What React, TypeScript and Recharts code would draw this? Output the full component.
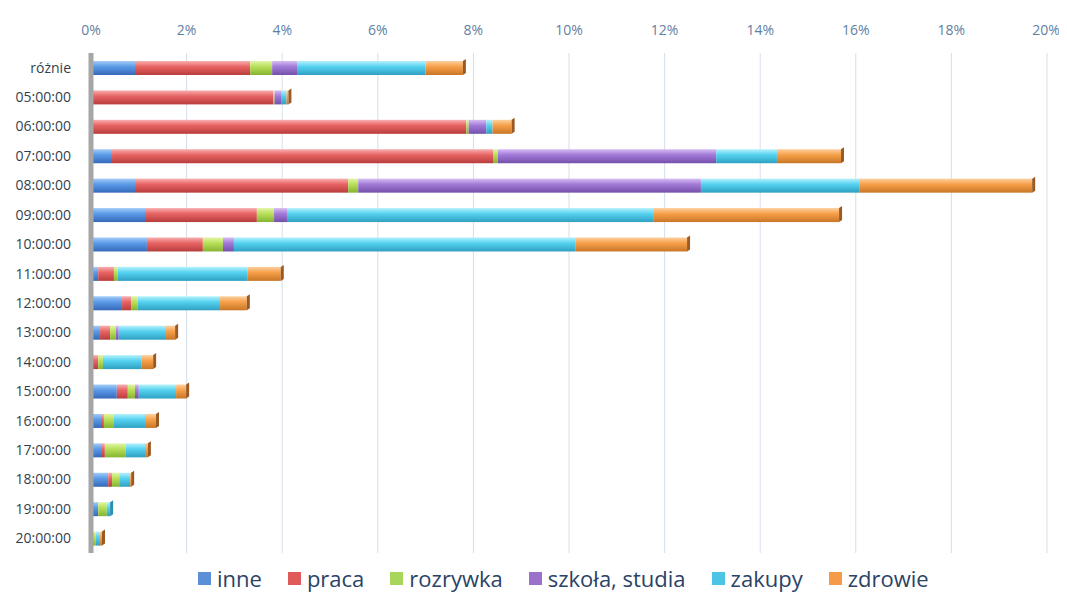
import React from "react";
import { BarChart, Bar, XAxis, YAxis, CartesianGrid, Legend, ReferenceLine } from "recharts";

const categories = ["różnie", "05:00:00", "06:00:00", "07:00:00", "08:00:00", "09:00:00", "10:00:00", "11:00:00", "12:00:00", "13:00:00", "14:00:00", "15:00:00", "16:00:00", "17:00:00", "18:00:00", "19:00:00", "20:00:00"];
const inne = [0.92, 0, 0, 0.44, 0.92, 1.13, 1.17, 0.15, 0.65, 0.19, 0.04, 0.54, 0.21, 0.21, 0.36, 0.15, 0.02];
const praca = [2.41, 3.81, 7.85, 7.97, 4.46, 2.34, 1.17, 0.33, 0.19, 0.21, 0.11, 0.23, 0.06, 0.08, 0.08, 0, 0];
const rozrywka = [0.46, 0.03, 0.05, 0.1, 0.21, 0.36, 0.42, 0.08, 0.14, 0.12, 0.1, 0.15, 0.21, 0.44, 0.15, 0.18, 0.08];
const szkola = [0.52, 0.15, 0.37, 4.57, 7.17, 0.27, 0.23, 0, 0, 0.06, 0, 0.08, 0, 0, 0, 0, 0];
const zakupy = [2.69, 0.1, 0.13, 1.27, 3.31, 7.66, 7.14, 2.72, 1.72, 0.99, 0.8, 0.78, 0.65, 0.4, 0.23, 0.07, 0.09];
const zdrowie = [0.78, 0.04, 0.4, 1.34, 3.62, 3.89, 2.34, 0.69, 0.56, 0.19, 0.25, 0.21, 0.23, 0.06, 0.02, 0, 0.04];
const xTicks = [0, 2, 4, 6, 8, 10, 12, 14, 16, 18, 20];

const seriesNames = ["inne", "praca", "rozrywka", "szkoła, studia", "zakupy", "zdrowie"];
const seriesValues = [inne, praca, rozrywka, szkola, zakupy, zdrowie];
const seriesColors = [
  { top: "#a4cbf7", mid: "#5b9be8", bot: "#3568b8", cap: "#2f5ea6" },
  { top: "#f8b0b0", mid: "#e86464", bot: "#b83c3c", cap: "#a83838" },
  { top: "#e2f5a6", mid: "#b8e05a", bot: "#86b332", cap: "#7aa02c" },
  { top: "#d6bdf2", mid: "#a37ad8", bot: "#7450aa", cap: "#66479a" },
  { top: "#b6f1fc", mid: "#55d2f0", bot: "#2fa0c2", cap: "#2b8fae" },
  { top: "#fcd0a0", mid: "#f7a04a", bot: "#c87626", cap: "#9a5a22" },
];
const legendColors = ["#5b8fd8", "#e05a5a", "#a8d65a", "#9a72cc", "#4cc4e6", "#f59a48"];

const data = categories.map((c, i) => {
  const row: Record<string, string | number> = { cat: c };
  seriesNames.forEach((s, k) => {
    row[s] = seriesValues[k][i];
  });
  return row;
});

const font = "'Open Sans', 'Noto Sans', sans-serif";

const makeShape = (k: number) => (props: any) => {
  const { x, y, width, height, payload } = props;
  if (!width || width <= 0) return <g />;
  let last = -1;
  seriesNames.forEach((s, j) => {
    if (Number(payload[s]) > 0) last = j;
  });
  const c = seriesColors[k];
  return (
    <g>
      <rect x={x} y={y} width={width} height={height} fill={`url(#g${k})`} />
      {last === k && (
        <polygon
          points={`${x + width},${y} ${x + width + 3},${y - 2} ${x + width + 3},${y + height - 2} ${x + width},${y + height}`}
          fill={c.cap}
        />
      )}
    </g>
  );
};

const LegendContent = () => (
  <div style={{ boxSizing: "border-box", width: "100%", display: "flex", justifyContent: "flex-start", alignItems: "center", fontFamily: font, fontSize: 22, color: "#2b4366", height: 30, paddingLeft: 190, overflow: "hidden", whiteSpace: "nowrap" }}>
    {seriesNames.map((s, k) => (
      <span key={s} style={{ display: "inline-flex", alignItems: "center", marginRight: 26 }}>
        <span style={{ display: "inline-block", width: 13, height: 13, background: legendColors[k], marginRight: 6 }} />
        {s}
      </span>
    ))}
  </div>
);

export default function App() {
  return (
    <div style={{ width: 1051, height: 585 }}>
      <BarChart
        width={1051}
        height={585}
        data={data}
        layout="vertical"
        margin={{ top: 15, right: 12, bottom: 10, left: 0 }}
        barSize={14}
      >
        <defs>
          {seriesColors.map((c, k) => (
            <linearGradient key={k} id={`g${k}`} x1="0" y1="0" x2="0" y2="1">
              <stop offset="0%" stopColor={c.top} />
              <stop offset="40%" stopColor={c.mid} />
              <stop offset="100%" stopColor={c.bot} />
            </linearGradient>
          ))}
        </defs>
        <CartesianGrid horizontal={false} stroke="#d5dfea" />
        <XAxis
          type="number"
          orientation="top"
          domain={[0, 20]}
          ticks={xTicks}
          tickFormatter={(v: number) => `${v}%`}
          axisLine={false}
          tickLine={false}
          tickSize={0}
          tickMargin={18}
          height={30}
          tick={{ fill: "#5f7fa3", fontSize: 14, fontFamily: font }}
        />
        <YAxis
          type="category"
          dataKey="cat"
          width={83}
          axisLine={false}
          tickLine={false}
          tickSize={0}
          tickMargin={20}
          tick={{ fill: "#333f4f", fontSize: 14, fontFamily: font }}
        />
        <ReferenceLine x={0} stroke="#a6a6a6" strokeWidth={5} />
        {seriesNames.map((s, k) => (
          <Bar key={s} dataKey={s} stackId="a" fill={seriesColors[k].mid} shape={makeShape(k)} isAnimationActive={false} />
        ))}
        <Legend verticalAlign="bottom" content={<LegendContent />} wrapperStyle={{ bottom: 0 }} />
      </BarChart>
    </div>
  );
}
